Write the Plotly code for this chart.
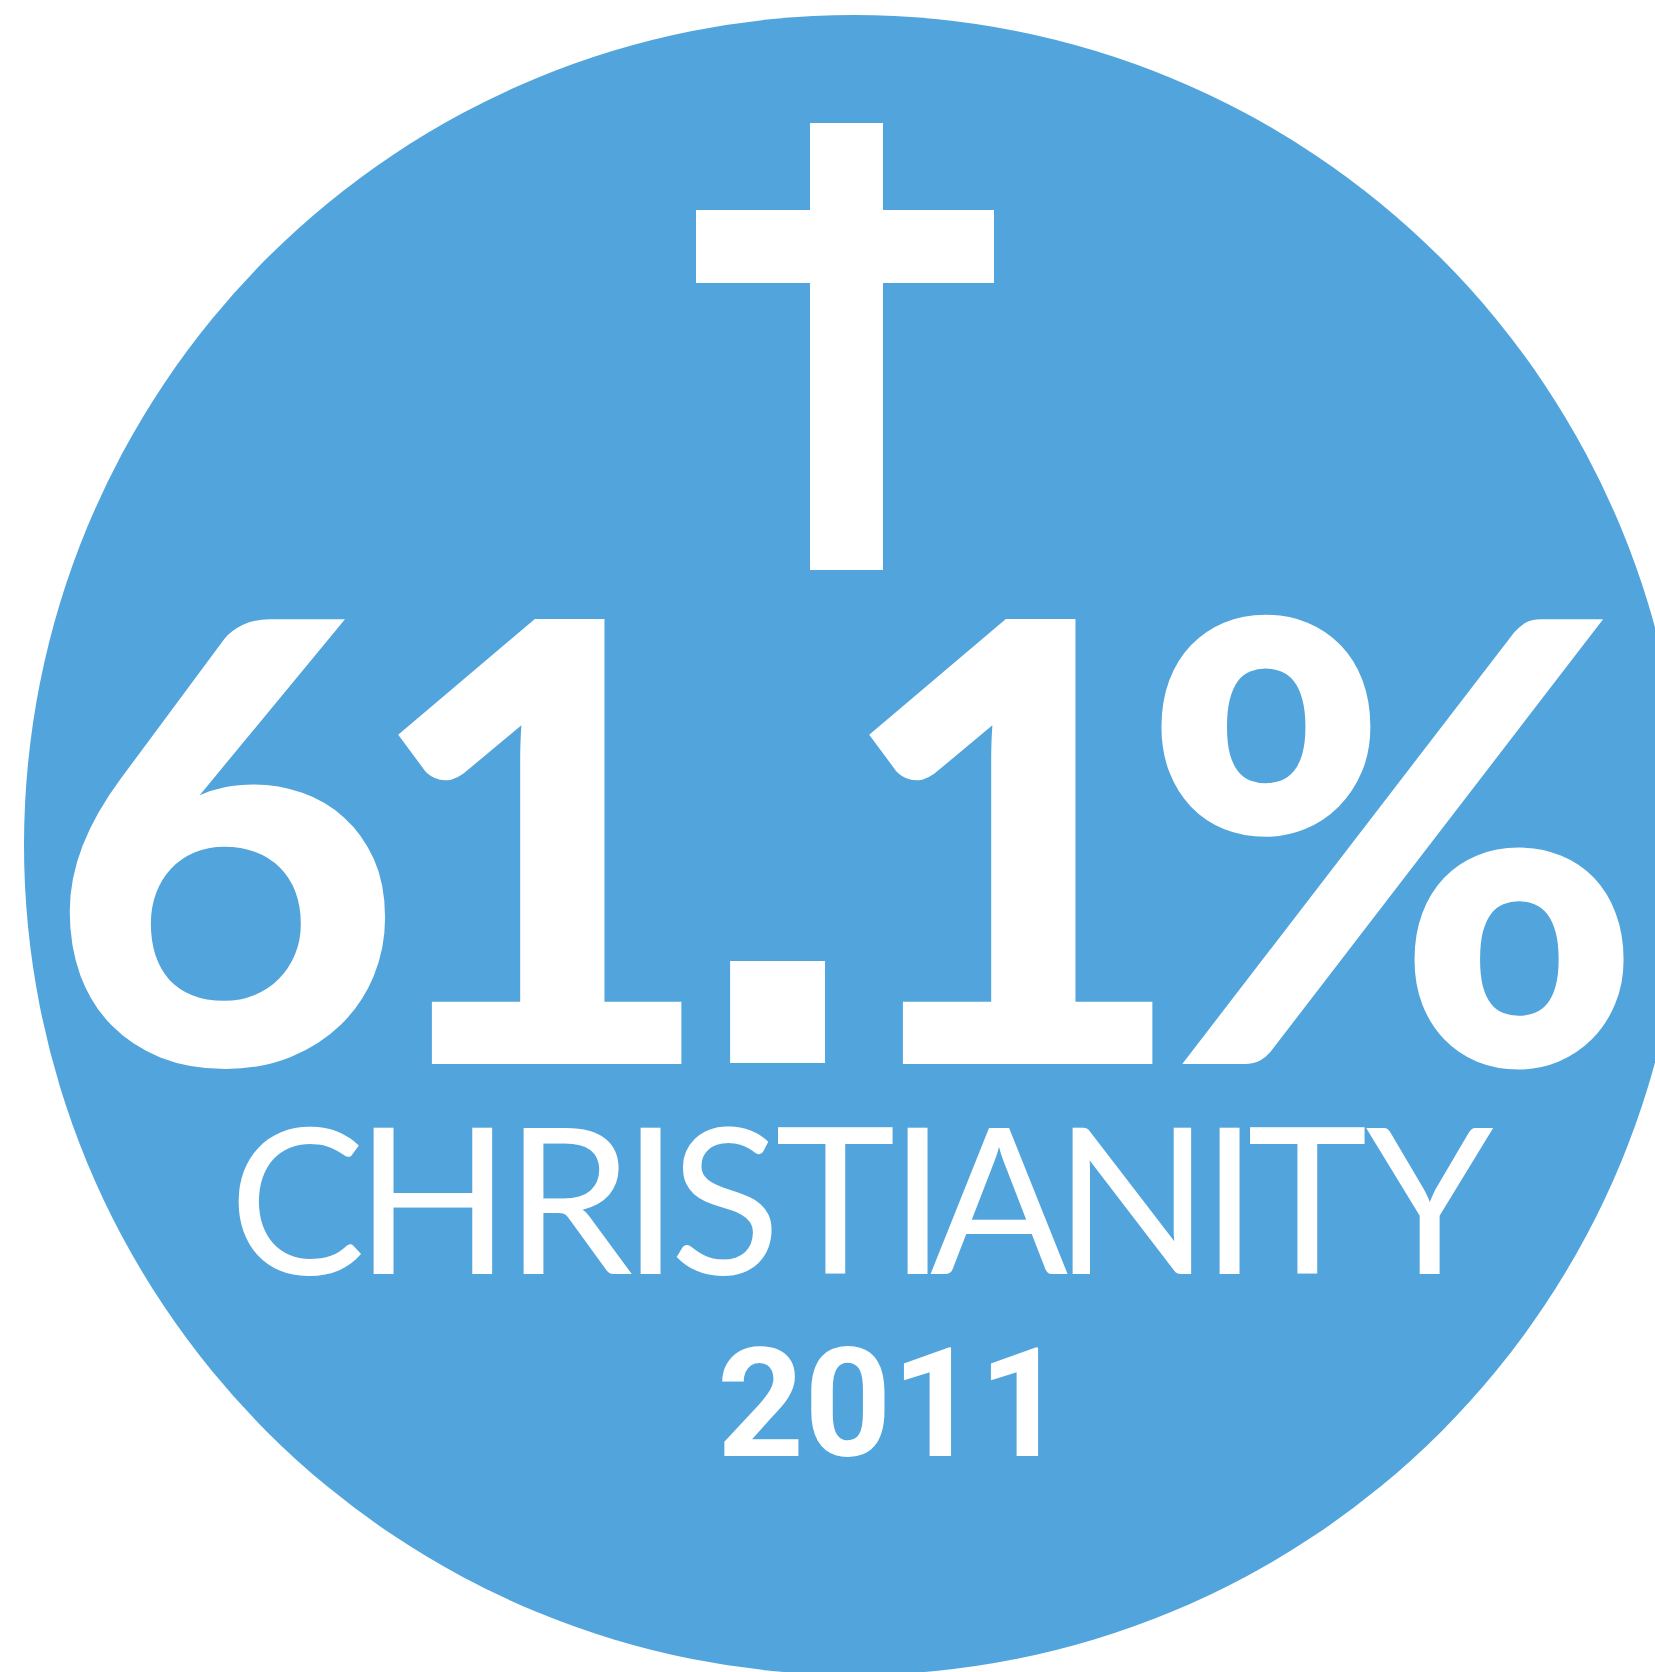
import plotly.graph_objects as go

# ---- data ----
religion = "CHRISTIANITY"
share_pct = 61.1
year = 2011

W, H = 1655, 1672
BLUE = "#52A5DC"
WHITE = "#FFFFFF"

fig = go.Figure()

# badge circle
fig.add_shape(type="circle", xref="x", yref="y", x0=24, x1=1684, y0=15, y1=1675,
              fillcolor=BLUE, line=dict(width=0), layer="below")

# cross icon
fig.add_shape(type="rect", xref="x", yref="y", x0=810, x1=883, y0=123, y1=570,
              fillcolor=WHITE, line=dict(width=0))
fig.add_shape(type="rect", xref="x", yref="y", x0=696, x1=994, y0=210, y1=283,
              fillcolor=WHITE, line=dict(width=0))

# big percentage, placed glyph by glyph (tight tracking)
pct_text = f"{share_pct}%"
glyph_centers = [225, 540, 777, 1011, 1392]
for ch, cx in zip(pct_text, glyph_centers):
    if ch == ".":
        fig.add_annotation(x=cx, y=876, xref="x", yref="y", text=ch, showarrow=False,
                           xanchor="center", yanchor="middle",
                           font=dict(family="DejaVu Sans", size=540, color=WHITE, weight=700))
    else:
        fig.add_annotation(x=cx, y=827, xref="x", yref="y", text=ch, showarrow=False,
                           xanchor="center", yanchor="middle",
                           font=dict(family="Lato", size=613, color=WHITE, weight=900))

# label, letter by letter to reproduce the tight tracking
letter_centers = [297, 433, 569, 650, 725, 835, 917, 999, 1132, 1229, 1307, 1430]
for ch, cx in zip(religion, letter_centers):
    fig.add_annotation(x=cx, y=1195, xref="x", yref="y", text=ch, showarrow=False,
                       xanchor="center", yanchor="middle",
                       font=dict(family="Lato", size=204, color=WHITE))

fig.add_annotation(x=891, y=1404, xref="x", yref="y", text=str(year), showarrow=False,
                   xanchor="center", yanchor="middle",
                   font=dict(family="Roboto", size=152, color=WHITE, weight=700))

fig.update_layout(
    width=W, height=H, autosize=False,
    margin=dict(l=0, r=0, t=0, b=0),
    paper_bgcolor=WHITE, plot_bgcolor=WHITE,
    xaxis=dict(range=[0, W], visible=False, fixedrange=True),
    yaxis=dict(range=[H, 0], visible=False, fixedrange=True),
    showlegend=False,
)

fig.write_html("out.html", config={"displayModeBar": False},
               post_script="document.body.style.margin='0px';")
